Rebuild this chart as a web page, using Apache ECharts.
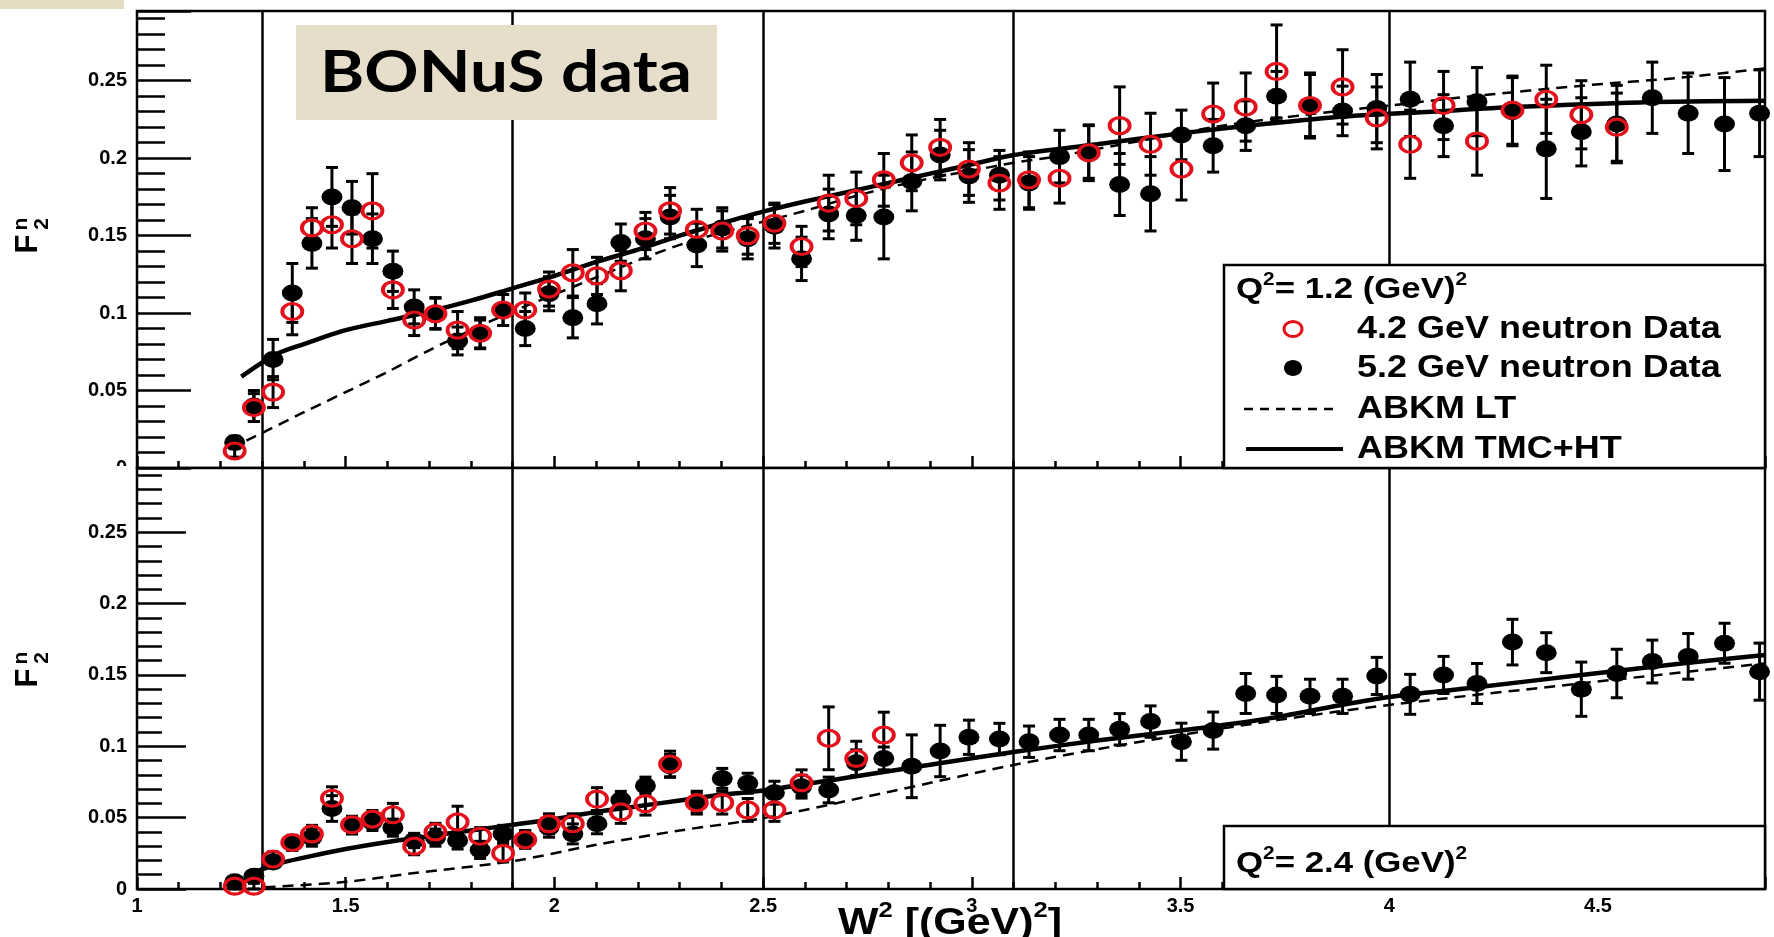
<!DOCTYPE html>
<html><head><meta charset="utf-8">
<script src="https://cdn.jsdelivr.net/npm/echarts@6/dist/echarts.min.js"></script>
<style>html,body{margin:0;padding:0;background:#fff}#c{width:1774px;height:937px}</style>
</head><body><div id="c"></div>
<script>
// W^2 bins (GeV^2) shared by both panels
const w2 = [1.234,1.280,1.326,1.372,1.419,1.467,1.515,1.564,1.613,1.664,1.715,1.768,1.822,1.877,1.930,1.987,2.044,2.102,2.159,2.218,2.277,2.341,2.402,2.463,2.527,2.592,2.657,2.723,2.789,2.856,2.924,2.993,3.066,3.137,3.210,3.280,3.354,3.428,3.502,3.578,3.656,3.730,3.810,3.888,3.970,4.050,4.130,4.210,4.295,4.376,4.460,4.545,4.630,4.716,4.803,4.887];

// Q^2 = 1.2 panel
const top52 = [0.0165,0.040,0.070,0.113,0.145,0.175,0.168,0.148,0.127,0.104,0.100,0.082,0.0865,0.102,0.090,0.1125,0.097,0.106,0.1455,0.148,0.162,0.144,0.155,0.148,0.156,0.135,0.164,0.163,0.162,0.185,0.202,0.1885,0.189,0.184,0.201,0.204,0.183,0.177,0.215,0.208,0.221,0.240,0.234,0.2305,0.232,0.238,0.221,0.2365,0.230,0.206,0.217,0.222,0.239,0.229,0.222,0.229];
const top52Err = [0.004,0.010,0.013,0.019,0.016,0.019,0.017,0.016,0.013,0.011,0.010,0.009,0.009,0.010,0.011,0.011,0.013,0.013,0.012,0.013,0.014,0.014,0.013,0.013,0.014,0.014,0.016,0.016,0.027,0.019,0.016,0.017,0.016,0.017,0.017,0.017,0.020,0.024,0.016,0.017,0.016,0.016,0.020,0.016,0.022,0.024,0.020,0.022,0.022,0.032,0.022,0.025,0.023,0.026,0.030,0.028];
const top42 = [0.011,0.039,0.049,0.101,0.155,0.157,0.148,0.166,0.115,0.0955,0.0996,0.089,0.087,0.102,0.102,0.1155,0.126,0.124,0.1274,0.153,0.166,0.154,0.153,0.150,0.158,0.143,0.171,0.174,0.186,0.197,0.207,0.193,0.184,0.186,0.187,0.2035,0.221,0.209,0.193,0.2285,0.233,0.256,0.234,0.246,0.226,0.209,0.234,0.211,0.231,0.238,0.228,0.220];
const top42Err = [0.004,0.009,0.010,0.015,0.013,0.015,0.016,0.024,0.012,0.010,0.010,0.012,0.010,0.010,0.011,0.011,0.015,0.012,0.013,0.012,0.015,0.013,0.013,0.012,0.013,0.013,0.018,0.017,0.017,0.018,0.018,0.017,0.017,0.018,0.016,0.018,0.025,0.020,0.020,0.020,0.022,0.030,0.021,0.024,0.020,0.022,0.022,0.022,0.022,0.022,0.022,0.022];

// Q^2 = 2.4 panel
const bot52 = [0.005,0.009,0.019,0.032,0.036,0.0564,0.0445,0.047,0.043,0.034,0.036,0.034,0.0274,0.0386,0.035,0.0433,0.0386,0.0457,0.0624,0.0724,0.0863,0.0605,0.0775,0.0741,0.0675,0.0717,0.0694,0.0885,0.0915,0.086,0.0967,0.1063,0.1051,0.1032,0.1079,0.1079,0.1119,0.1173,0.1032,0.111,0.137,0.136,0.135,0.135,0.1493,0.1364,0.150,0.144,0.173,0.1656,0.140,0.151,0.1594,0.163,0.1722,0.1523];
const bot52Err = [0.002,0.003,0.004,0.005,0.006,0.009,0.006,0.006,0.006,0.005,0.006,0.006,0.006,0.006,0.006,0.007,0.007,0.007,0.006,0.006,0.008,0.007,0.007,0.007,0.008,0.008,0.009,0.009,0.008,0.022,0.018,0.012,0.011,0.011,0.011,0.011,0.011,0.011,0.013,0.013,0.014,0.013,0.012,0.012,0.013,0.014,0.013,0.014,0.016,0.014,0.019,0.017,0.015,0.016,0.014,0.020];
const bot42 = [0.002,0.002,0.021,0.0326,0.0386,0.0636,0.045,0.049,0.052,0.030,0.040,0.047,0.037,0.025,0.0345,0.0457,0.0457,0.063,0.054,0.0598,0.0876,0.0605,0.0605,0.0554,0.0554,0.0745,0.1056,0.0915,0.1079];
const bot42Err = [0.002,0.002,0.005,0.005,0.006,0.008,0.006,0.006,0.008,0.006,0.006,0.011,0.006,0.006,0.006,0.007,0.007,0.008,0.008,0.008,0.009,0.008,0.008,0.008,0.008,0.009,0.022,0.012,0.016];

// ABKM curves
const htTopW2 = [1.25,1.33,1.4,1.5,1.6,1.7,1.8,1.9,2.0,2.1,2.2,2.3,2.4,2.5,2.6,2.7,2.8,2.9,3.0,3.1,3.3,3.5,3.7,3.9,4.1,4.3,4.6,4.9];
const htTopF2 = [0.059,0.073,0.080,0.089,0.095,0.101,0.108,0.116,0.124,0.133,0.141,0.150,0.158,0.1655,0.172,0.178,0.184,0.190,0.196,0.202,0.209,0.216,0.222,0.227,0.230,0.233,0.236,0.237];
const ltTopW2 = [1.262,1.4,1.5,1.6,1.7,1.8,1.9,2.0,2.1,2.2,2.3,2.4,2.5,2.6,2.7,2.8,2.9,3.0,3.1,3.2,3.4,3.6,3.8,4.0,4.2,4.47,4.7,4.9];
const ltTopF2 = [0.0176,0.036,0.049,0.062,0.076,0.089,0.101,0.112,0.123,0.134,0.144,0.152,0.159,0.166,0.174,0.181,0.187,0.192,0.197,0.201,0.211,0.221,0.228,0.234,0.240,0.247,0.252,0.258];
const htBotW2 = [1.26,1.33,1.4,1.5,1.6,1.7,1.8,1.9,2.0,2.1,2.2,2.3,2.4,2.5,2.7,2.9,3.1,3.3,3.5,3.7,3.85,4.0,4.2,4.46,4.7,4.9];
const htBotF2 = [0.009,0.017,0.022,0.028,0.033,0.037,0.041,0.045,0.049,0.054,0.058,0.062,0.066,0.069,0.078,0.087,0.096,0.104,0.111,0.119,0.127,0.1345,0.141,0.150,0.158,0.164];
const ltBotW2 = [1.306,1.5,1.66,1.9,2.1,2.3,2.5,2.8,3.1,3.4,3.735,4.0,4.46,4.9];
const ltBotF2 = [0.0012,0.005,0.011,0.0195,0.031,0.041,0.0496,0.068,0.0869,0.103,0.1185,0.129,0.1441,0.1581];

// vertical separator lines
const boundaryW2 = [1.3, 1.9, 2.5, 3.1, 4.0];

const legendLabels = ['4.2 GeV neutron Data','5.2 GeV neutron Data','ABKM LT','ABKM TMC+HT'];

const RED = '#e3111b';
const FONT = '"Liberation Sans", Arial, sans-serif';
const SX = 1.16;

function pts(xs, ys){ const o=[]; for(let i=0;i<Math.min(xs.length,ys.length);i++){ if(ys[i]!=null) o.push([xs[i],ys[i]]); } return o; }
function errPts(xs, ys, es){ const o=[]; for(let i=0;i<Math.min(xs.length,ys.length,es.length);i++) o.push([xs[i],ys[i],es[i]]); return o; }

function errRender(params, api){
  const x=api.value(0), y=api.value(1), e=api.value(2);
  const hi=api.coord([x,y+e]), lo=api.coord([x,y-e]);
  const c=6, st={stroke:'#000', lineWidth:3};
  return {type:'group', children:[
    {type:'line', shape:{x1:hi[0],y1:hi[1],x2:lo[0],y2:lo[1]}, style:st},
    {type:'line', shape:{x1:hi[0]-c,y1:hi[1],x2:hi[0]+c,y2:hi[1]}, style:st},
    {type:'line', shape:{x1:lo[0]-c,y1:lo[1],x2:lo[0]+c,y2:lo[1]}, style:st}
  ]};
}
function fmtY(v){ const k=Math.round(v/0.05); return Math.abs(v-k*0.05)<1e-9 ? String(+(k*0.05).toFixed(2)) : ''; }
function fmtX(v){ const k=Math.round(v*2); return Math.abs(v-k/2)<1e-9 ? String(k/2) : ''; }

const labelStyle = {color:'#000', fontFamily:FONT, fontWeight:'bold', fontSize:20};
function xAx(grid, interval, len, labels){
  return {type:'value', gridIndex:grid, position:'bottom', offset:0, min:1, max:4.9, interval:interval,
    axisLine:{show:false}, splitLine:{show:false},
    axisTick:{inside:true, length:len, lineStyle:{color:'#000', width:2.5}},
    axisLabel: labels ? Object.assign({show:true, margin:7, formatter:fmtX}, labelStyle) : {show:false}};
}
function yAx(grid, interval, len, labels){
  return {type:'value', gridIndex:grid, position:'left', offset:0, min:0, max:0.295, interval:interval,
    axisLine:{show:false}, splitLine:{show:false},
    axisTick:{inside:true, length:len, lineStyle:{color:'#000', width:2.5}},
    axisLabel: labels ? Object.assign({show:true, margin:10, formatter:fmtY}, labelStyle) : {show:false}};
}

const series = [];
function panel(p, d52, e52, d42, e42, htX, htY, ltX, ltY){
  const xi = p*2, yi = p*2;
  series.push({type:'line', xAxisIndex:xi, yAxisIndex:yi, data:pts(ltX,ltY), smooth:0.3, showSymbol:false, z:2,
    lineStyle:{color:'#000', width:2.5, type:[11,7]}});
  series.push({type:'line', xAxisIndex:xi, yAxisIndex:yi, data:pts(htX,htY), smooth:0.3, showSymbol:false, z:2,
    lineStyle:{color:'#000', width:4.5},
    markLine:{silent:true, symbol:['none','none'], label:{show:false}, animation:false,
      lineStyle:{color:'#000', width:2.5, type:'solid'},
      data: boundaryW2.map(v=>({xAxis:v}))}});
  series.push({type:'custom', xAxisIndex:xi, yAxisIndex:yi, renderItem:errRender, data:errPts(w2,d52,e52), encode:{x:0,y:1}, z:3});
  series.push({type:'custom', xAxisIndex:xi, yAxisIndex:yi, renderItem:errRender, data:errPts(w2,d42,e42), encode:{x:0,y:1}, z:3});
  series.push({type:'scatter', xAxisIndex:xi, yAxisIndex:yi, data:pts(w2,d52), symbol:'circle', symbolSize:[21,17], z:4,
    itemStyle:{color:'#000', opacity:1}});
  series.push({type:'scatter', xAxisIndex:xi, yAxisIndex:yi, data:pts(w2,d42), symbol:'circle', symbolSize:[20,16], z:5,
    itemStyle:{color:'rgba(0,0,0,0)', borderColor:RED, borderWidth:3.5, opacity:1}});
}
panel(0, top52, top52Err, top42, top42Err, htTopW2, htTopF2, ltTopW2, ltTopF2);
panel(1, bot52, bot52Err, bot42, bot42Err, htBotW2, htBotF2, ltBotW2, ltBotF2);

function txt(x, y, text, size, opts){
  return Object.assign({type:'text', x:x, y:y, z:100, scaleX:SX,
    style:{text:text, fill:'#000', font:'bold '+size+'px '+FONT, align:'left', verticalAlign:'middle'}}, opts||{});
}
function qText(x, y, val){
  return {type:'text', x:x, y:y, z:100, scaleX:SX,
    style:{text:'{b|Q}{s|2}{b|= '+val+' (GeV)}{s|2}', align:'left', verticalAlign:'middle', fill:'#000',
      rich:{b:{fontFamily:FONT, fontWeight:'bold', fontSize:30, fill:'#000', verticalAlign:'bottom', lineHeight:34},
            s:{fontFamily:FONT, fontWeight:'bold', fontSize:18, fill:'#000', verticalAlign:'top', lineHeight:34}}}};
}
function f2Name(yc){
  return [
    {type:'text', x:28, y:yc, rotation:Math.PI/2, z:100, style:{text:'F', font:'bold 31px '+FONT, fill:'#000', align:'center', verticalAlign:'middle'}},
    {type:'text', x:21, y:yc-20, rotation:Math.PI/2, z:100, style:{text:'n', font:'bold 21px '+FONT, fill:'#000', align:'center', verticalAlign:'middle'}},
    {type:'text', x:42, y:yc-20, rotation:Math.PI/2, z:100, style:{text:'2', font:'bold 21px '+FONT, fill:'#000', align:'center', verticalAlign:'middle'}}
  ];
}

const graphic = [
  {type:'rect', shape:{x:0,y:0,width:124,height:9}, style:{fill:'#e4dbc3'}, z:100},
  {type:'rect', shape:{x:296,y:25,width:421,height:95}, style:{fill:'#e6deca'}, z:100},
  {type:'text', x:506, y:73, z:101, scaleX:SX, style:{text:'BONuS data', font:'bold 58px Lato, "Open Sans", sans-serif', fill:'#000', align:'center', verticalAlign:'middle'}},
  // legend box, upper panel
  {type:'rect', shape:{x:1224,y:265,width:541,height:203}, style:{fill:'#fff', stroke:'#000', lineWidth:2.5}, z:99},
  qText(1236, 288, '1.2'),
  {type:'ellipse', shape:{cx:1293, cy:329, rx:9, ry:7.5}, style:{fill:'none', stroke:RED, lineWidth:3}, z:100},
  txt(1357, 329, legendLabels[0], 31),
  {type:'ellipse', shape:{cx:1293, cy:368, rx:9, ry:8}, style:{fill:'#000'}, z:100},
  txt(1357, 368, legendLabels[1], 31),
  {type:'line', shape:{x1:1244,y1:409,x2:1334,y2:409}, style:{stroke:'#000', lineWidth:2.5, lineDash:[9,7]}, z:100},
  txt(1357, 409, legendLabels[2], 31),
  {type:'line', shape:{x1:1246,y1:449,x2:1343,y2:449}, style:{stroke:'#000', lineWidth:4}, z:100},
  txt(1357, 449, legendLabels[3], 31),
  // legend box, lower panel
  {type:'rect', shape:{x:1224,y:826,width:541,height:63}, style:{fill:'#fff', stroke:'#000', lineWidth:2.5}, z:99},
  qText(1236, 862, '2.4'),
  // cover lower part of the clipped upper-panel "0"
  {type:'rect', shape:{x:95,y:466,width:40,height:14}, style:{fill:'#fff'}, z:100},
  // x axis name
  {type:'text', x:950, y:921, z:100, scaleX:SX,
    style:{text:'{b|W}{s|2}{b| [(GeV)}{s|2}{b|]}', align:'center', verticalAlign:'middle',
      rich:{b:{fontFamily:FONT, fontWeight:'bold', fontSize:37, fill:'#000', verticalAlign:'bottom', lineHeight:42},
            s:{fontFamily:FONT, fontWeight:'bold', fontSize:22, fill:'#000', verticalAlign:'top', lineHeight:42}}}}
].concat(f2Name(244), f2Name(678));

const chart = echarts.init(document.getElementById('c'));
chart.setOption({
  animation:false,
  backgroundColor:'#fff',
  grid:[
    {left:137, top:11, width:1628, height:457, show:true, borderColor:'#000', borderWidth:2.5, backgroundColor:'#fff'},
    {left:137, top:468, width:1628, height:421, show:true, borderColor:'#000', borderWidth:2.5, backgroundColor:'#fff'}
  ],
  xAxis:[ xAx(0,0.5,12,false), xAx(0,0.1,7,false), xAx(1,0.5,12,true), xAx(1,0.1,7,false) ],
  yAxis:[ yAx(0,0.05,54,true), yAx(0,0.01,28,false), yAx(1,0.05,49,true), yAx(1,0.01,25,false) ],
  series: series,
  graphic: graphic
});
</script></body></html>
